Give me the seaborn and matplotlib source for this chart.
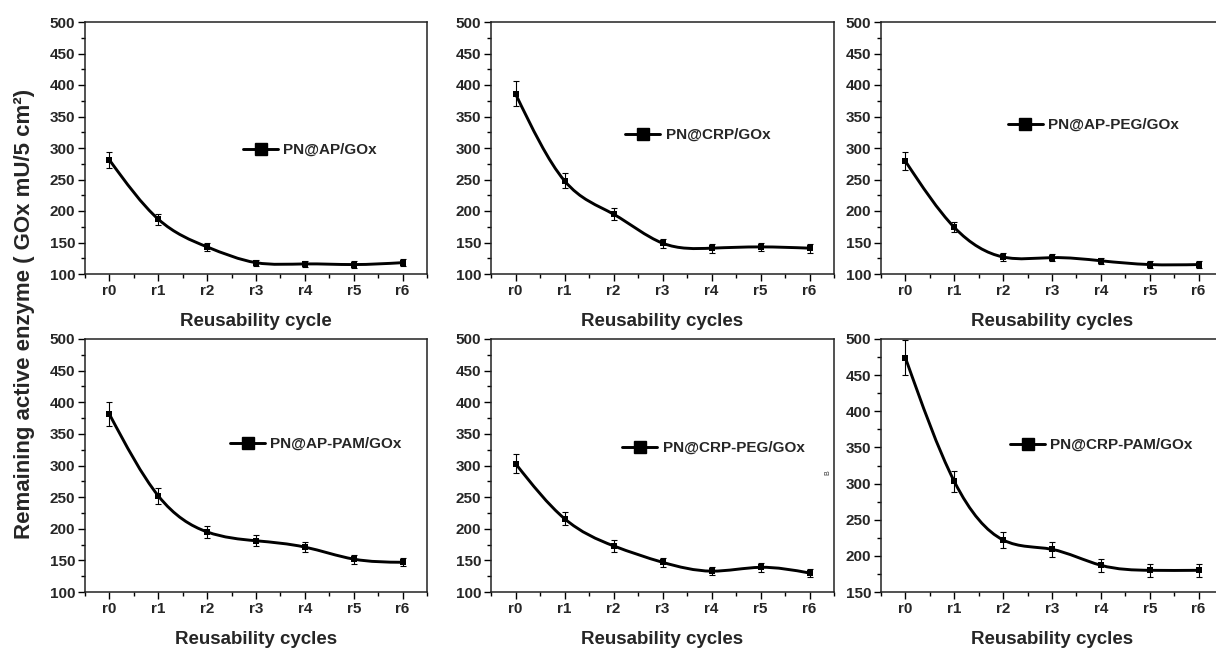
import numpy as np
import matplotlib
matplotlib.use("Agg")
import matplotlib.pyplot as plt
import seaborn as sns
from matplotlib.path import Path
from matplotlib.patches import PathPatch
from matplotlib.lines import Line2D
from matplotlib.ticker import MultipleLocator

# Reuse cycles
cycles = ["r0", "r1", "r2", "r3", "r4", "r5", "r6"]

# Remaining active enzyme (GOx mU / 5 cm^2) and standard deviations
ap_gox = [281, 187, 143, 118, 116, 115, 118]
ap_gox_err = [13, 9, 7, 5, 5, 5, 6]

crp_gox = [386, 248, 195, 149, 141, 143, 141]
crp_gox_err = [20, 12, 9, 7, 7, 7, 7]

ap_peg_gox = [279, 174, 127, 126, 121, 115, 115]
ap_peg_gox_err = [14, 8, 6, 6, 5, 5, 5]

ap_pam_gox = [381, 252, 195, 181, 171, 152, 147]
ap_pam_gox_err = [19, 13, 10, 9, 8, 7, 6]

crp_peg_gox = [303, 216, 173, 147, 133, 139, 130]
crp_peg_gox_err = [15, 10, 9, 7, 6, 7, 7]

crp_pam_gox = [474, 303, 222, 209, 187, 180, 180]
crp_pam_gox_err = [24, 15, 11, 10, 9, 9, 9]

labels = ["PN@AP/GOx", "PN@CRP/GOx", "PN@AP-PEG/GOx",
          "PN@AP-PAM/GOx", "PN@CRP-PEG/GOx", "PN@CRP-PAM/GOx"]
xlabels = ["Reusability cycle", "Reusability cycles", "Reusability cycles",
           "Reusability cycles", "Reusability cycles", "Reusability cycles"]
ylabel = "Remaining active enzyme ( GOx mU/5 cm²)"

sns.set_theme(style="ticks")
plt.rcParams["font.family"] = ["Liberation Sans", "DejaVu Sans"]
plt.rcParams["font.weight"] = "bold"
plt.rcParams["axes.labelweight"] = "bold"


def spline_path(x, y):
    """Natural cubic spline through the points, as a Bezier path."""
    x = np.asarray(x, float)
    y = np.asarray(y, float)
    n = len(x) - 1
    A = np.zeros((n + 1, n + 1))
    b = np.zeros(n + 1)
    A[0, 0] = A[n, n] = 1.0
    for i in range(1, n):
        A[i, i - 1], A[i, i], A[i, i + 1] = 1.0, 4.0, 1.0
        b[i] = 6.0 * (y[i + 1] - 2 * y[i] + y[i - 1])
    M = np.linalg.solve(A, b)
    d = np.empty(n + 1)
    for i in range(n):
        d[i] = (y[i + 1] - y[i]) - (2 * M[i] + M[i + 1]) / 6.0
    d[n] = (y[n] - y[n - 1]) + (M[n - 1] + 2 * M[n]) / 6.0
    verts = [(x[0], y[0])]
    codes = [Path.MOVETO]
    for i in range(n):
        h = x[i + 1] - x[i]
        verts += [(x[i] + h / 3, y[i] + d[i] * h / 3),
                  (x[i + 1] - h / 3, y[i + 1] - d[i + 1] * h / 3),
                  (x[i + 1], y[i + 1])]
        codes += [Path.CURVE4] * 3
    return Path(verts, codes)


series = [(ap_gox, ap_gox_err), (crp_gox, crp_gox_err), (ap_peg_gox, ap_peg_gox_err),
          (ap_pam_gox, ap_pam_gox_err), (crp_peg_gox, crp_peg_gox_err),
          (crp_pam_gox, crp_pam_gox_err)]
ylims = [(100, 500)] * 5 + [(150, 500)]
legend_pos = [(0.462, 0.492), (0.391, 0.552), (0.371, 0.591),
              (0.424, 0.585), (0.382, 0.569), (0.377, 0.581)]

W, H = 1216, 648
fig = plt.figure(figsize=(W / 100, H / 100), dpi=100)
col_px = [(85, 427), (491, 834), (881, 1223)]
row_px = [(22, 274), (339, 592)]

x = np.arange(len(cycles))
for k, ((vals, errs), lab, xl, ylim, lpos) in enumerate(
        zip(series, labels, xlabels, ylims, legend_pos)):
    r, c = divmod(k, 3)
    l, rr = col_px[c]
    t, bt = row_px[r]
    ax = fig.add_axes([l / W, 1 - bt / H, (rr - l) / W, (bt - t) / H])

    ax.add_patch(PathPatch(spline_path(x, vals), facecolor="none",
                           edgecolor="black", lw=2.1, zorder=2,
                           capstyle="round", joinstyle="round"))
    ax.errorbar(x, vals, yerr=errs, fmt="none", ecolor="black",
                elinewidth=0.8, capsize=2.3, capthick=0.8, zorder=3)
    sns.scatterplot(x=x, y=vals, marker="s", s=22, color="black",
                    edgecolor="black", linewidth=0, ax=ax, zorder=4,
                    legend=False)

    ax.set_xlim(-0.5, 6.5)
    ax.set_ylim(*ylim)
    ax.set_xticks(x)
    ax.set_xticklabels(cycles)
    ax.xaxis.set_minor_locator(MultipleLocator(0.5))
    ax.yaxis.set_major_locator(MultipleLocator(50))
    ax.yaxis.set_minor_locator(MultipleLocator(25))
    ax.tick_params(which="major", direction="out", length=5, width=1.0,
                   labelsize=11, pad=2, top=False, right=False, color="black")
    ax.tick_params(which="minor", direction="out", length=3, width=1.0,
                   top=False, right=False, color="black")
    for lbl in ax.get_xticklabels() + ax.get_yticklabels():
        lbl.set_fontweight("bold")
    for sp in ax.spines.values():
        sp.set_linewidth(1.1)
        sp.set_color("#222222")
    ax.set_xlabel(xl, fontsize=13.5, fontweight="bold", labelpad=11)
    ax.set_ylabel("")

    handle = Line2D([], [], color="black", lw=2.1, marker="s",
                    markersize=9, markerfacecolor="black")
    ax.legend([handle], [lab], loc="center left", bbox_to_anchor=lpos,
              frameon=False, borderpad=0, borderaxespad=0,
              handlelength=2.3, handletextpad=0.35,
              prop={"size": 11, "weight": "bold"})

fig.text(25 / W, 1 - 314 / H, ylabel, rotation=90, ha="center", va="center",
         fontsize=16, fontweight="bold")
fig.text(828 / W, 1 - 473 / H, "B", rotation=90, ha="center", va="center",
         fontsize=5, fontweight="normal", color="#333333")

fig.savefig("out.png", dpi=100)
